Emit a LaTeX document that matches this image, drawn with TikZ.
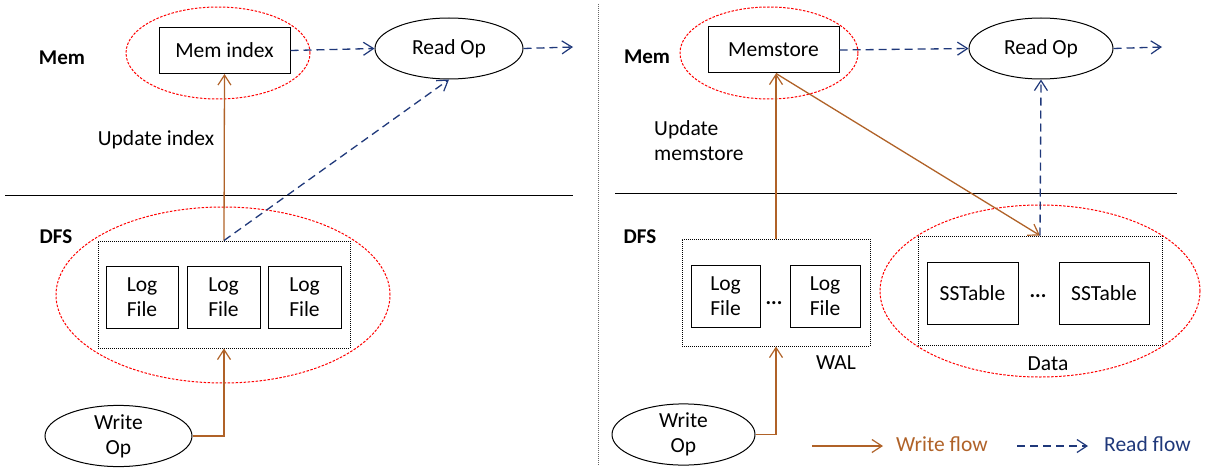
\documentclass[tikz,border=0pt]{standalone}
\usepackage{fontspec}
\setmainfont{Carlito}
\usetikzlibrary{shapes.geometric,arrows.meta,calc}
\definecolor{wbrown}{RGB}{176,98,40}
\definecolor{rblue}{RGB}{31,56,122}
\begin{document}
\begin{tikzpicture}[x=1pt,y=-1pt,font=\fontsize{21.5}{25}\selectfont,
  box/.style={draw,line width=1pt,inner sep=0pt,align=center},
  oval/.style={draw,ellipse,line width=1pt,inner sep=0pt,align=center},
  redoval/.style={draw=red,ellipse,line width=1pt,dash pattern=on 2.5pt off 1.5pt,inner sep=0pt},
  dotbox/.style={draw,line width=1pt,dash pattern=on 1pt off 1pt,inner sep=0pt},
  wflow/.style={draw=wbrown,line width=1.3pt,-{Straight Barb[length=10pt,width=13pt,line width=1.2pt]}},
  rflow/.style={draw=rblue,line width=1.3pt,dash pattern=on 8pt off 5pt,-{Straight Barb[length=10pt,width=13pt,line width=1.2pt]}},
  lbl/.style={inner sep=0pt},
  sec/.style={inner sep=0pt,font=\fontsize{21}{25}\selectfont\bfseries}]
\useasboundingbox (0,0) rectangle (1214,468);

% section lines
\coordinate (hl1) at (5,195.5); \coordinate (hl2) at (573,195.5);
\coordinate (hr1) at (615,193.5); \coordinate (hr2) at (1177,193.5);
\coordinate (v1) at (598,4); \coordinate (v2) at (598,466);
\draw[line width=1pt] (hl1) -- (hl2);
\draw[line width=1pt] (hr1) -- (hr2);
\draw[line width=1pt,dash pattern=on 1pt off 1pt,gray!80!black] (v1) -- (v2);

% ---------------- left panel ----------------
\node[sec] (memL) at (62,58) {Mem};
\node[sec] (dfsL) at (56,237) {DFS};
\node[box,minimum width=131pt,minimum height=46pt] (memidx) at (224.5,50.5) {Mem index};
\node[redoval,minimum width=184pt,minimum height=92pt] (rmemL) at (218,53) {};
\node[oval,minimum width=148pt,minimum height=61pt] (readL) at (449,48.5) {Read Op};
\coordinate (readLout) at (573,47);
\node[lbl] (updidx) at (156,140) {Update index};

\node[dotbox,minimum width=252pt,minimum height=107pt] (logsL) at (224,294.5) {};
\node[box,minimum width=72pt,minimum height=62pt] (lf1) at (142,297) {Log\\File};
\node[box,minimum width=73pt,minimum height=62pt] (lf2) at (223.5,297) {Log\\File};
\node[box,minimum width=73pt,minimum height=62pt] (lf3) at (304.5,297) {Log\\File};
\node[redoval,minimum width=334pt,minimum height=176pt] (rdfsL) at (223,295) {};
\node[oval,minimum width=147pt,minimum height=60pt] (writeL) at (118.5,436) {Write\\Op};

\draw[rflow] (memidx.east) -- (readL.west);
\draw[rflow] (readL.east) -- (readLout);
\draw[wflow] (logsL.north) -- (memidx.south);
\draw[rflow] (logsL.north) -- (readL.south);
\draw[wflow] (writeL.east) -| (logsL.south);

% ---------------- right panel ----------------
\node[sec] (memR) at (647,57) {Mem};
\node[sec] (dfsR) at (640,237) {DFS};
\node[box,minimum width=131pt,minimum height=46pt] (memstore) at (773.5,50) {Memstore};
\node[redoval,minimum width=178pt,minimum height=92pt] (rmemR) at (769,53) {};
\node[oval,minimum width=144pt,minimum height=61pt] (readR) at (1041,48.5) {Read Op};
\coordinate (readRout) at (1162,47);
\node[lbl,align=left,anchor=west] (updms) at (654,141) {Update\\memstore};

\node[dotbox,minimum width=188pt,minimum height=107pt] (wal) at (776,292.5) {};
\node[box,minimum width=69pt,minimum height=62pt] (lf4) at (725.5,296) {Log\\File};
\node[box,minimum width=70pt,minimum height=62pt] (lf5) at (825,296) {Log\\File};
\node[lbl,font=\fontsize{21}{25}\selectfont\bfseries] (dots1) at (774,303) {...};
\node[lbl] (wallbl) at (836,363) {WAL};

\node[dotbox,minimum width=244pt,minimum height=109pt] (data) at (1040,290.5) {};
\node[box,minimum width=91pt,minimum height=62pt] (ss1) at (972.5,293) {SSTable};
\node[box,minimum width=90pt,minimum height=62pt] (ss2) at (1104,293) {SSTable};
\node[lbl,font=\fontsize{21}{25}\selectfont\bfseries] (dots2) at (1038,296) {...};
\node[lbl] (datalbl) at (1048,364) {Data};
\node[redoval,minimum width=320pt,minimum height=172pt] (rdata) at (1040,291) {};
\node[oval,minimum width=143pt,minimum height=61pt] (writeR) at (683.5,434.5) {Write\\Op};

\coordinate (mstap) at (wal.north |- memstore.south);
\draw[rflow] (memstore.east) -- (readR.west);
\draw[rflow] (readR.east) -- (readRout);
\draw[wflow] (wal.north) -- (mstap);
\draw[wflow] (mstap) -- (data.north);
\draw[rflow] (data.north) -- (readR.south);
\draw[wflow] (writeR.east) -| (wal.south);

% legend
\coordinate (lw1) at (812,446); \coordinate (lw2) at (883,446);
\coordinate (lr1) at (1017,446); \coordinate (lr2) at (1088,446);
\draw[wflow] (lw1) -- (lw2);
\node[lbl,text=wbrown,anchor=west] (lwt) at (896,444) {Write flow};
\draw[rflow] (lr1) -- (lr2);
\node[lbl,text=rblue,anchor=west] (lrt) at (1104,444) {Read flow};
\end{tikzpicture}
\end{document}
